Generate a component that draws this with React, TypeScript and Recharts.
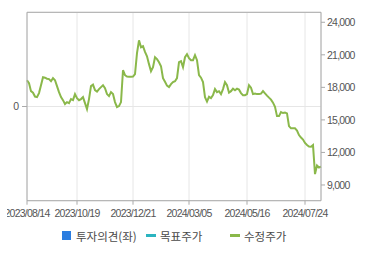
import React from "react";
import {
  CartesianGrid,
  Legend,
  Line,
  LineChart,
  ReferenceLine,
  XAxis,
  YAxis,
} from "recharts";

// adjusted close, sampled roughly every other trading day
const prices = [
  18660, 18390, 17650, 17510, 17150, 17100, 17470, 18200, 18940, 18890,
  18800, 18760, 18570, 18850, 18660, 18110, 17560, 17100, 16820, 16460,
  16640, 16550, 16920, 16820, 17380, 17010, 16820, 16920, 17100, 16550,
  16000, 16920, 18110, 18250, 17740, 17610, 17840, 18020, 18200, 17930,
  17380, 17190, 17560, 17380, 16640, 16180, 16270, 16640, 19580, 19120,
  18990, 18970, 18970, 18990, 19220, 21150, 22340, 21700, 21790, 21270,
  20870, 20140, 19490, 19860, 20780, 20600, 20320, 19950, 18850, 18510,
  18160, 18020, 18300, 18480, 18570, 18850, 20320, 20410, 19860, 20780,
  21060, 20690, 20500, 20500, 20960, 20500, 19120, 18890, 18480, 17100,
  16690, 17130, 17010, 17280, 17840, 17560, 17650, 17380, 17840, 18480,
  18200, 17510, 17650, 17880, 17740, 17880, 17790, 17470, 17280, 17280,
  17380, 18200, 17970, 17380, 17440, 17380, 17380, 17420, 17650, 17440,
  17240, 17050, 16870, 16590, 16210, 15350, 15350, 15720, 15630, 15670,
  15600, 14430, 14220, 14220, 14220, 14020, 13600, 13370, 13190, 12870,
  12680, 12550, 12530, 12680, 10000, 10800, 10610, 10690,
];

const tickAt = [0, 25, 53, 81, 110, 139];
const tickDates = [
  "2023/08/14",
  "2023/10/19",
  "2023/12/21",
  "2024/03/05",
  "2024/05/16",
  "2024/07/24",
];
const priceTicks = [9000, 12000, 15000, 18000, 21000, 24000];
const priceDomain = [7550, 24920];
const opinionTicks = [0];
const opinionDomain = [-1, 1];

const legendItems = [
  { name: "투자의견(좌)", color: "#2b7de0", shape: "square" },
  { name: "목표주가", color: "#2bb4c0", shape: "line" },
  { name: "수정주가", color: "#8ab84a", shape: "line" },
];

const data = prices.map((price, idx) => ({ idx, price }));

const axisColor = "#aaaaaa";
const tickFont = {
  fontSize: 10.5,
  fill: "#555",
  fontFamily: "Liberation Sans, Arial, sans-serif",
  letterSpacing: -0.75,
};

function renderLegend() {
  return (
    <div
      style={{
        display: "flex",
        alignItems: "center",
        height: 22,
        paddingLeft: 62,
        fontFamily: "'Noto Sans CJK KR', sans-serif",
        fontSize: 11.5,
        color: "#4a4a4a",
      }}
    >
      {legendItems.map((item) => (
        <div
          key={item.name}
          style={{ display: "flex", alignItems: "center", width: 84 }}
        >
          <span style={{ width: 14, display: "flex", alignItems: "center" }}>
            {item.shape === "square" ? (
              <span style={{ width: 9, height: 9, background: item.color }} />
            ) : (
              <span style={{ width: 10, height: 2.5, background: item.color }} />
            )}
          </span>
          <span style={{ whiteSpace: "nowrap" }}>{item.name}</span>
        </div>
      ))}
    </div>
  );
}

export default function App() {
  return (
    <div
      style={{
        position: "absolute",
        left: 7,
        top: 0,
        width: 363,
        height: 255,
        overflow: "hidden",
        background: "#fff",
      }}
    >
      <div style={{ position: "absolute", left: -7, top: 0 }}>
        <LineChart
          width={370}
          height={255}
          data={data}
          margin={{ top: 12.3, right: 0, bottom: 0, left: 0 }}
        >
          <CartesianGrid yAxisId="left" stroke="#e6e6e6" strokeWidth={1} />
          <XAxis
            dataKey="idx"
            type="number"
            domain={[0, prices.length - 1]}
            ticks={tickAt}
            interval={0}
            tickFormatter={(v) => tickDates[tickAt.indexOf(v)] ?? ""}
            height={24}
            stroke={axisColor}
            tickSize={4}
            tickMargin={4.5}
            tick={tickFont}
          />
          <YAxis
            yAxisId="left"
            orientation="left"
            type="number"
            domain={opinionDomain}
            allowDataOverflow
            ticks={opinionTicks}
            width={27}
            stroke={axisColor}
            tickSize={5}
            tickMargin={3.7}
            tick={tickFont}
          />
          <YAxis
            yAxisId="right"
            orientation="right"
            domain={priceDomain}
            allowDataOverflow
            ticks={priceTicks}
            width={49}
            stroke={axisColor}
            tickSize={4}
            tickMargin={2}
            tick={tickFont}
            tickFormatter={(v) => v.toLocaleString("en-US")}
          />
          <ReferenceLine yAxisId="right" y={priceDomain[1]} stroke={axisColor} />
          {/* investment opinion series: no ratings in this period */}
          <Line
            yAxisId="left"
            type="linear"
            dataKey="opinion"
            stroke="none"
            dot={false}
            legendType="none"
            isAnimationActive={false}
          />
          <Line
            yAxisId="right"
            type="linear"
            dataKey="price"
            stroke="#8ab84a"
            strokeWidth={2}
            dot={false}
            isAnimationActive={false}
          />
          <Legend
            verticalAlign="bottom"
            height={30.3}
            content={renderLegend}
            wrapperStyle={{ left: 0, width: 370, height: 30.3 }}
          />
        </LineChart>
      </div>
    </div>
  );
}
